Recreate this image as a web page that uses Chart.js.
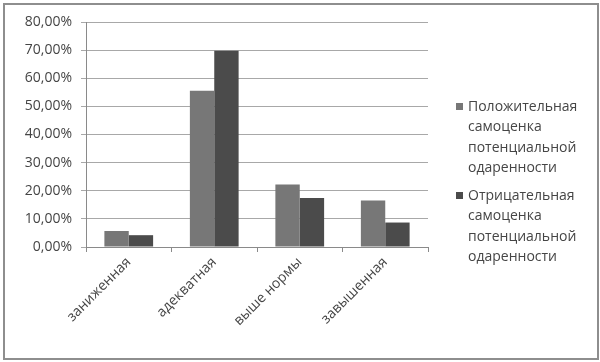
<!DOCTYPE html>
<html>
<head>
<meta charset="utf-8">
<script src="https://cdn.jsdelivr.net/npm/chart.js@4.4.0/dist/chart.umd.min.js"></script>
<style>
  html, body { margin: 0; padding: 0; background: #fff; }
  #wrap { position: relative; width: 600px; height: 362px; }
  #frame { position: absolute; left: 3px; top: 3px; width: 592px; height: 353px; border: 2px solid #8e8e8e; pointer-events: none; }
  #legend { position: absolute; left: 455px; top: 96px; font-family: "Open Sans", sans-serif; font-size: 14px; color: #454545; line-height: 20.3px; }
  .item { position: relative; padding-left: 13px; margin-bottom: 8px; }
  .box { position: absolute; left: 1px; top: 7px; width: 7px; height: 7px; }
</style>
</head>
<body>
<div id="wrap">
  <canvas id="grafico" width="600" height="362"></canvas>
  <div id="legend"></div>
  <div id="frame"></div>
</div>
<script>
const categorias = ['заниженная', 'адекватная', 'выше нормы', 'завышенная'];
const positiva = [5.7, 55.6, 22.2, 16.5];
const negativa = [4.2, 69.8, 17.4, 8.7];
const etiquetaPositiva = ['Положительная', 'самоценка', 'потенциальной', 'одаренности'];
const etiquetaNegativa = ['Отрицательная', 'самоценка', 'потенциальной', 'одаренности'];
const colorPositiva = '#777777';
const colorNegativa = '#4b4b4b';

const fuente = { family: '"Open Sans", sans-serif', size: 14 };

const ctx = document.getElementById('grafico');
new Chart(ctx, {
    type: 'bar',
    data: {
        labels: categorias,
        datasets: [{
            label: etiquetaPositiva.join(' '),
            data: positiva,
            backgroundColor: colorPositiva,
            categoryPercentage: 0.57,
            barPercentage: 1
        }, {
            label: etiquetaNegativa.join(' '),
            data: negativa,
            backgroundColor: colorNegativa,
            categoryPercentage: 0.57,
            barPercentage: 1
        }]
    },
    options: {
        responsive: false,
        animation: false,
        layout: { padding: { left: 0, top: 22, right: 172, bottom: 12 } },
        plugins: {
            legend: { display: false },
            tooltip: { enabled: false }
        },
        scales: {
            x: {
                grid: { drawOnChartArea: false, offset: true, tickLength: 5, color: '#8a8a8a' },
                border: { color: '#8a8a8a' },
                ticks: { font: fuente, color: '#454545', maxRotation: 45, minRotation: 45, padding: 2 },
                afterFit: s => { s.height = 103; }
            },
            y: {
                min: 0,
                max: 80,
                ticks: {
                    stepSize: 10,
                    font: fuente,
                    color: '#454545',
                    padding: 9,
                    callback: v => v.toFixed(2).replace('.', ',') + '%'
                },
                grid: { color: '#a8a8a8', tickLength: 5 },
                border: { color: '#8a8a8a' },
                afterFit: s => { s.width = 86; }
            }
        }
    }
});

const legend = document.getElementById('legend');
[[etiquetaPositiva, colorPositiva], [etiquetaNegativa, colorNegativa]].forEach(([lineas, color]) => {
    const item = document.createElement('div');
    item.className = 'item';
    item.innerHTML = '<span class="box" style="background:' + color + '"></span>' + lineas.join('<br>');
    legend.appendChild(item);
});
</script>
</body>
</html>
